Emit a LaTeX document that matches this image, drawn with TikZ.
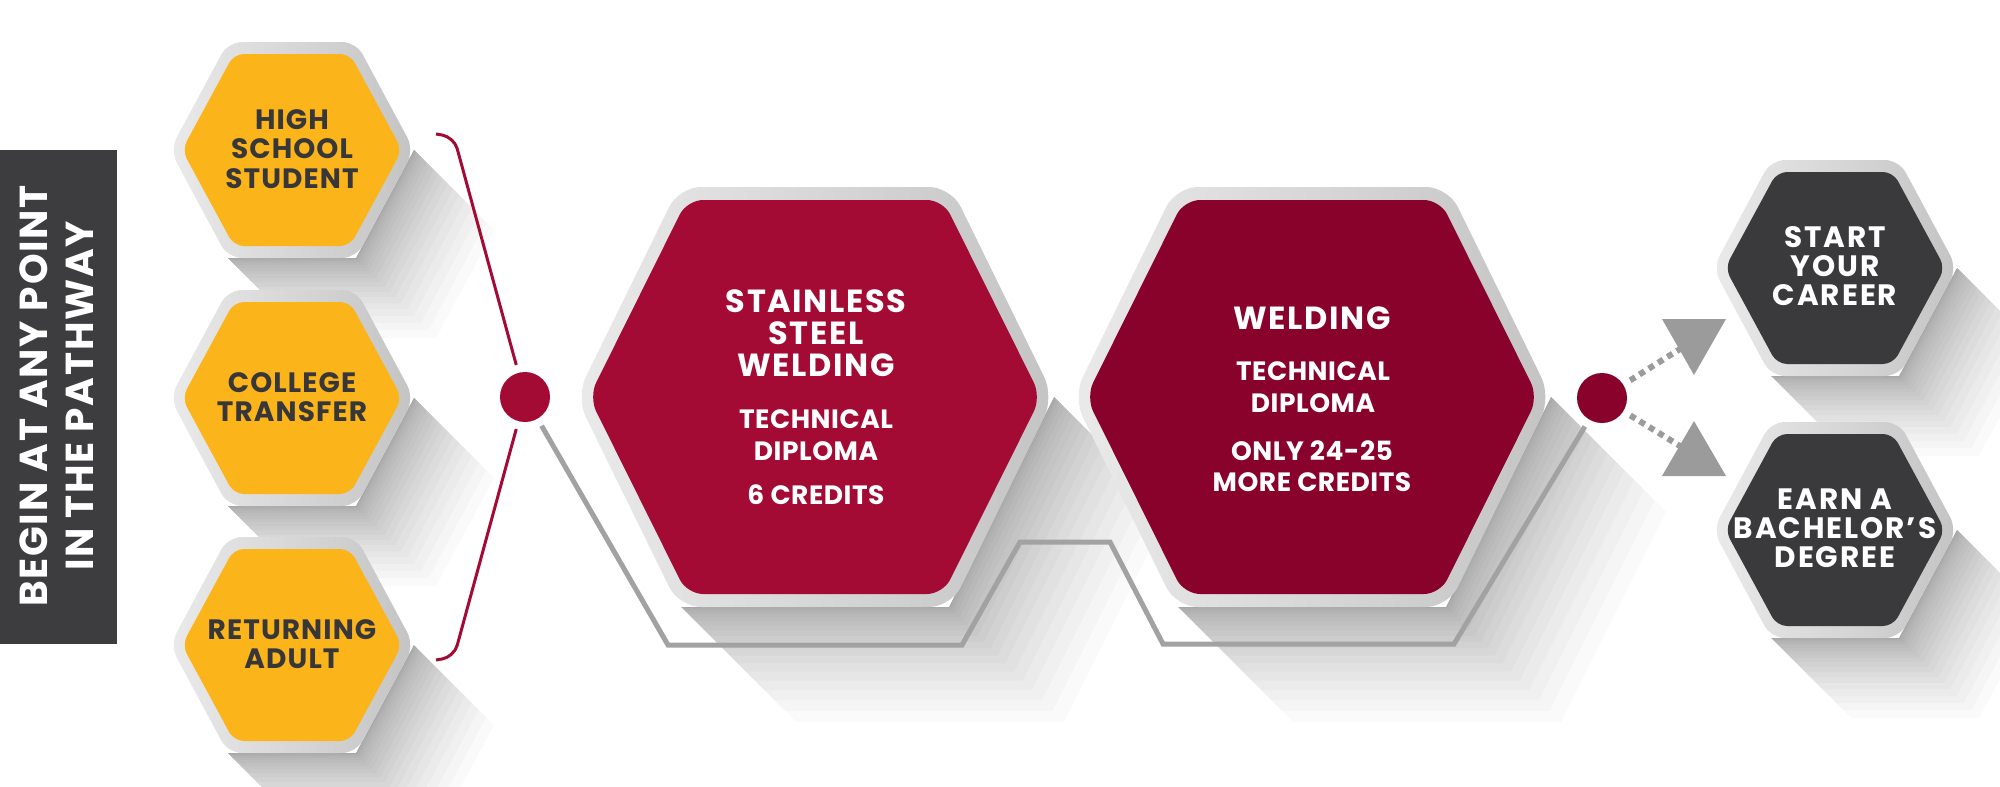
\documentclass[tikz,border=0pt]{standalone}
\usepackage{fontspec}
\setmainfont{Poppins}
\usetikzlibrary{calc}
\definecolor{yel}{HTML}{FBB41A}
\definecolor{redA}{HTML}{A30B35}
\definecolor{redB}{HTML}{88022B}
\definecolor{darkhex}{HTML}{3A3A3C}
\definecolor{bardark}{HTML}{3D3D3F}
\definecolor{txtdark}{HTML}{37373A}
\definecolor{greyline}{HTML}{A2A2A2}
\definecolor{tricol}{HTML}{9B9B9C}
\definecolor{rimL}{HTML}{EAEAEA}
\definecolor{rimR}{HTML}{C4C4C4}
% hexagon path: options, cx, cy, R, H, a
\newcommand\hexpath[6][]{%
  \path[#1] ({#2},{#3-#5}) -- ({#2+#6},{#3-#5}) -- ({#2+#4},{#3}) -- ({#2+#6},{#3+#5})
    -- ({#2-#6},{#3+#5}) -- ({#2-#4},{#3}) -- ({#2-#6},{#3-#5}) -- cycle;}
% long shadow: cx, cy, R, H, a, d
\newcommand\hexshadow[6]{%
  \foreach \k in {1,...,20}{%
    \pgfmathsetmacro\dd{#6*(\k/20)^2}%
    \fill[black, fill opacity=0.018] ({#1+#3},{#2}) -- ({#1+#3+\dd},{#2+\dd})
      -- ({#1+#5+\dd},{#2+#4+\dd}) -- ({#1-#5+\dd},{#2+#4+\dd}) -- ({#1-#5},{#2+#4})
      -- ({#1+#5},{#2+#4}) -- cycle;}}
\begin{document}
\begin{tikzpicture}[x=1pt,y=-1pt,
  rim/.style={left color=rimL, right color=rimR},
  ytxt/.style={font=\fontsize{28}{29.5}\selectfont\bfseries\addfontfeature{LetterSpace=4}, text=txtdark, align=center, inner sep=0pt},
  wtitle/.style={font=\fontsize{32}{32}\selectfont\bfseries\addfontfeature{LetterSpace=5}, text=white, align=center, inner sep=0pt},
  wsub/.style={font=\fontsize{26.5}{31.5}\selectfont\bfseries\addfontfeature{LetterSpace=2}, text=white, align=center, inner sep=0pt},
  dtxt/.style={font=\fontsize{29.5}{29}\selectfont\bfseries\addfontfeature{LetterSpace=6.5}, text=white, align=center, inner sep=0pt},
  bartxt/.style={font=\fontsize{39}{46}\selectfont\bfseries\addfontfeature{LetterSpace=4.5}, text=white, align=center, inner sep=0pt, rotate=90},
  dotnode/.style={circle, minimum size=50pt, inner sep=0pt},
  redline/.style={draw=redA, line width=3pt},
  gline/.style={draw=greyline, line width=5pt},
  dashline/.style={draw=tricol, line width=6pt, dash pattern=on 6pt off 5pt},
  tri/.style={fill=tricol}]
\useasboundingbox (0,0) rectangle (2000,787);
\fill[white] (0,0) rectangle (2000,787);

% ---------- shadows ----------
\hexshadow{292}{150}{122}{108}{64}{80}
\hexshadow{292}{398}{122}{108}{64}{80}
\hexshadow{292}{645}{122}{108}{64}{80}
\hexshadow{815}{397}{239}{210}{134}{115}
\hexshadow{1312}{397}{239}{210}{134}{115}
\hexshadow{1835}{268}{122}{108}{64}{80}
\hexshadow{1835}{530}{122}{108}{64}{80}

% ---------- left bar ----------
\fill[bardark] (0,150) rectangle (117,644);
\node[bartxt] (bar) at (57,396) {BEGIN AT ANY POINT\\IN THE PATHWAY};

% ---------- dots ----------
\node[dotnode, fill=redA] (d1) at (525,397) {};
\node[dotnode, fill=redB] (d2) at (1602,398) {};

% ---------- connectors ----------
\coordinate (bt1) at (436,134);
\coordinate (bt2) at (454,137);
\coordinate (bb2) at (454,657);
\coordinate (bb1) at (436,660);
\draw[redline, rounded corners=12pt, shorten >=8pt] (bt1) -- (bt2) -- (d1);
\draw[redline, rounded corners=12pt, shorten <=8pt] (d1) -- (bb2) -- (bb1);

\coordinate (g1) at (668,645);
\coordinate (g2) at (962,645);
\coordinate (g3) at (1020,542);
\coordinate (g4) at (1110,542);
\coordinate (g5) at (1163,644);
\coordinate (g6) at (1454,644);
\draw[gline, shorten <=8pt, shorten >=8pt] (d1) -- (g1) -- (g2) -- (g3) -- (g4) -- (g5) -- (g6) -- (d2);

\coordinate (t1) at (1680,349);
\coordinate (t2) at (1680,446);
\draw[dashline, shorten <=8pt] (d2) -- (t1);
\draw[dashline, shorten <=8pt] (d2) -- (t2);
\fill[tri] (1662,319) -- (1726,319) -- (1694,375) -- cycle;
\fill[tri] (1662,476) -- (1726,476) -- (1694,421) -- cycle;

% ---------- hexagons ----------
\foreach \cy in {150,398,645}{
  \hexpath[rim, rounded corners=14pt]{292}{\cy}{122}{108}{64}
  \hexpath[fill=yel, rounded corners=10pt]{292}{\cy}{110}{96}{58}
}
\hexpath[rim, rounded corners=22pt]{815}{397}{239}{210}{136}
\hexpath[fill=redA, rounded corners=16pt]{815}{397}{226}{197}{128}
\hexpath[rim, rounded corners=22pt]{1312}{397}{239}{210}{136}
\hexpath[fill=redB, rounded corners=16pt]{1312}{397}{226}{197}{128}
\foreach \cy in {268,530}{
  \hexpath[rim, rounded corners=14pt]{1835}{\cy}{122}{108}{64}
  \hexpath[fill=darkhex, rounded corners=10pt]{1835}{\cy}{110}{96}{58}
}

% ---------- texts ----------
\node[ytxt] (y1) at (292,149) {HIGH\\SCHOOL\\STUDENT};
\node[ytxt] (y2) at (292,397) {COLLEGE\\TRANSFER};
\node[ytxt] (y3) at (292,644) {RETURNING\\ADULT};

\node[wtitle] (s1t) at (816,333) {STAINLESS\\STEEL\\WELDING};
\node[wsub] (s1d) at (816,435) {TECHNICAL\\DIPLOMA};
\node[wsub] (s1c) at (816,495) {6 CREDITS};

\node[wtitle] (w1t) at (1312,318) {WELDING};
\node[wsub] (w1d) at (1313,387) {TECHNICAL\\DIPLOMA};
\node[wsub] (w1c) at (1312,466) {ONLY 24-25\\MORE CREDITS};

\node[dtxt] (c1) at (1835,266) {START\\YOUR\\CAREER};
\node[dtxt] (c2) at (1835,528) {EARN A\\BACHELOR’S\\DEGREE};
\end{tikzpicture}
\end{document}
